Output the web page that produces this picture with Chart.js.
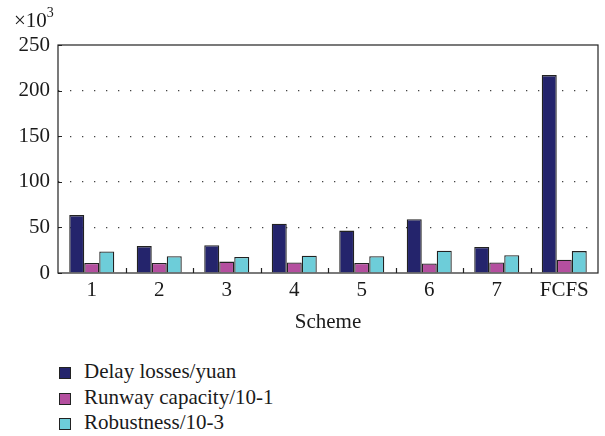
<!DOCTYPE html>
<html>
<head>
<meta charset="utf-8">
<script src="https://cdn.jsdelivr.net/npm/chart.js@4/dist/chart.umd.min.js"></script>
<style>
  html, body { margin: 0; padding: 0; background: #fff; }
  #wrap { position: relative; width: 605px; height: 436px; font-family: "Liberation Serif", "Times New Roman", serif; color: #1a1a1a; }
  #chart { position: absolute; left: 0; top: 0; }
  #mult { position: absolute; left: 14px; top: 7px; font-size: 21px; }
  #mult sup { font-size: 14px; position: relative; top: -2px; }
  #legend { position: absolute; left: 59px; top: 359px; font-size: 21px; }
  .row { height: 25.5px; line-height: 25.5px; white-space: nowrap; }
  .sw { display: inline-block; width: 10px; height: 10px; border: 1px solid #222; margin-right: 13px; vertical-align: -1px; }
</style>
</head>
<body>
<div id="wrap">
  <canvas id="chart" width="605" height="345"></canvas>
  <div id="mult">×10<sup>3</sup></div>
  <div id="legend"></div>
</div>
<script>
// Dados (x10^3)
const schemes = ["1", "2", "3", "4", "5", "6", "7", "FCFS"];
const delayLosses = [63.5, 29.5, 30.5, 54, 46.5, 59, 28.5, 217];
const runwayCapacity = [11, 11, 12.5, 11.5, 11, 10.5, 11.5, 14.5];
const robustness = [23.5, 18.5, 17.5, 19, 18.5, 24.5, 19.5, 24];
const yTicks = [0, 50, 100, 150, 200, 250];

const seriesNames = ["Delay losses/yuan", "Runway capacity/10-1", "Robustness/10-3"];
const seriesColors = ["#24246c", "#b44f9f", "#6dcdd9"];

const FONT = { family: "'Liberation Serif', 'Times New Roman', serif", size: 21 };

// Moldura e marcas interiores dos eixos
const framePlugin = {
    id: "frame",
    afterDraw(chart) {
        const { ctx, chartArea: a, scales } = chart;
        ctx.save();
        ctx.strokeStyle = "#222";
        ctx.lineWidth = 1.2;
        ctx.strokeRect(a.left, a.top, a.right - a.left, a.bottom - a.top);
        ctx.beginPath();
        yTicks.forEach(v => {
            const y = Math.round(scales.y.getPixelForValue(v)) + 0.5;
            ctx.moveTo(a.left, y);
            ctx.lineTo(a.left + 4, y);
        });
        for (let i = 1; i < schemes.length; i++) {
            const x = Math.round((scales.x.getPixelForValue(i - 1) + scales.x.getPixelForValue(i)) / 2) + 0.5;
            ctx.moveTo(x, a.bottom);
            ctx.lineTo(x, a.bottom - 5);
        }
        ctx.stroke();
        ctx.restore();
    }
};

new Chart(document.getElementById("chart"), {
    type: "bar",
    data: {
        labels: schemes,
        datasets: [delayLosses, runwayCapacity, robustness].map((d, i) => ({
            label: seriesNames[i],
            data: d,
            backgroundColor: seriesColors[i],
            borderColor: "#222",
            borderWidth: 1.3,
            categoryPercentage: 0.667,
            barPercentage: 1.0
        }))
    },
    options: {
        responsive: false,
        animation: false,
        layout: { padding: { top: 45, right: 7, left: 0, bottom: 10 } },
        plugins: { legend: { display: false }, tooltip: { enabled: false } },
        scales: {
            x: {
                grid: { display: false, drawTicks: false },
                border: { display: false },
                ticks: { color: "#1a1a1a", font: FONT, padding: 5, maxRotation: 0 },
                title: { display: true, text: "Scheme", color: "#1a1a1a", font: FONT, padding: { top: 0, bottom: 0 } },
                afterFit(scale) { scale.height = 62; }
            },
            y: {
                min: 0,
                max: 250,
                afterBuildTicks(scale) { scale.ticks = yTicks.map(v => ({ value: v })); },
                grid: {
                    drawTicks: false,
                    color: ctx => (ctx.tick && (ctx.tick.value === 0 || ctx.tick.value === 250)) ? "rgba(0,0,0,0)" : "#444",
                    lineWidth: 1.2
                },
                border: { display: false, dash: [1.3, 10.7] },
                ticks: { color: "#1a1a1a", font: FONT, padding: 8 },
                afterFit(scale) { scale.width = 58; }
            }
        }
    },
    plugins: [framePlugin]
});

// Legenda em HTML (vertical)
document.getElementById("legend").innerHTML = seriesNames.map((n, i) =>
    `<div class="row"><span class="sw" style="background:${seriesColors[i]}"></span>${n}</div>`
).join("");
</script>
</body>
</html>
